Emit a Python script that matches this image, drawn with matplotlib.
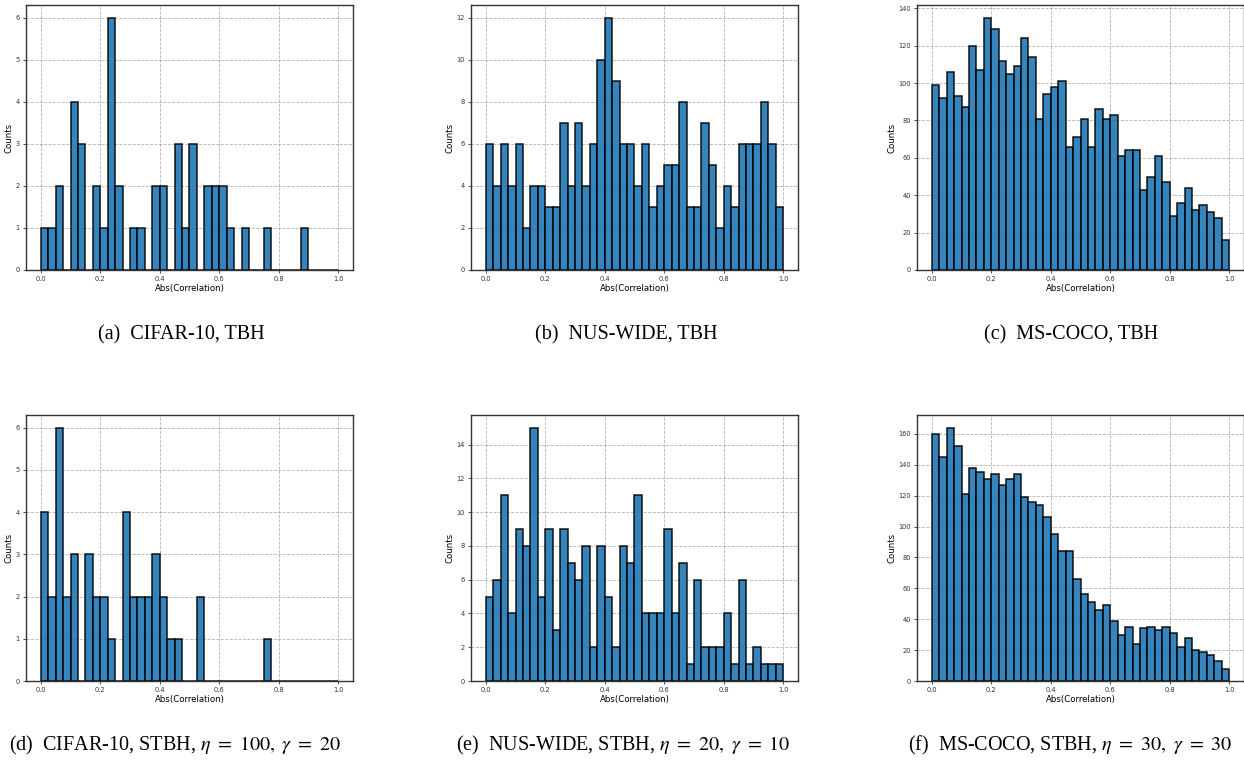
import numpy as np
import matplotlib
matplotlib.use("Agg")
import matplotlib.pyplot as plt

plt.rcParams['mathtext.fontset'] = 'stix'

bin_edges = np.linspace(0.0, 1.0, 41)

cifar_tbh = [1, 1, 2, 0, 4, 3, 0, 2, 1, 6,
             2, 0, 1, 1, 0, 2, 2, 0, 3, 1,
             3, 0, 2, 2, 2, 1, 0, 1, 0, 0,
             1, 0, 0, 0, 0, 1, 0, 0, 0, 0]
nus_tbh = [6, 4, 6, 4, 6, 2, 4, 4, 3, 3,
           7, 4, 7, 4, 6, 10, 12, 9, 6, 6,
           4, 6, 3, 4, 5, 5, 8, 3, 3, 7,
           5, 2, 4, 3, 6, 6, 6, 8, 6, 3]
coco_tbh = [99, 92, 106, 93, 87, 120, 107, 135, 129, 112,
            105, 109, 124, 114, 81, 94, 98, 101, 66, 71,
            81, 66, 86, 81, 83, 61, 64, 64, 43, 50,
            61, 47, 29, 36, 44, 32, 35, 31, 28, 16]
cifar_stbh = [4, 2, 6, 2, 3, 0, 3, 2, 2, 1,
              0, 4, 2, 2, 2, 3, 2, 1, 1, 0,
              0, 2, 0, 0, 0, 0, 0, 0, 0, 0,
              1, 0, 0, 0, 0, 0, 0, 0, 0, 0]
nus_stbh = [5, 6, 11, 4, 9, 8, 15, 5, 9, 3,
            9, 7, 6, 8, 2, 8, 5, 2, 8, 7,
            11, 4, 4, 4, 9, 4, 7, 1, 6, 2,
            2, 2, 4, 1, 6, 1, 2, 1, 1, 1]
coco_stbh = [160, 145, 164, 152, 121, 138, 135, 131, 134, 127,
             131, 134, 119, 116, 114, 106, 95, 84, 84, 66,
             56, 51, 46, 49, 39, 30, 35, 24, 34, 35,
             33, 35, 31, 22, 28, 20, 19, 17, 13, 8]

series = [cifar_tbh, nus_tbh, coco_tbh, cifar_stbh, nus_stbh, coco_stbh]
captions = ["(a)  CIFAR-10, TBH",
            "(b)  NUS-WIDE, TBH",
            "(c)  MS-COCO, TBH",
            r"(d)  CIFAR-10, STBH, $\eta\ =\ 100,\ \gamma\ =\ 20$",
            r"(e)  NUS-WIDE, STBH, $\eta\ =\ 20,\ \gamma\ =\ 10$",
            r"(f)  MS-COCO, STBH, $\eta\ =\ 30,\ \gamma\ =\ 30$"]

W, H = 1244, 761
fig = plt.figure(figsize=(W / 100, H / 100), dpi=100)

lefts = [26, 471, 917]
ax_w = 327
rows = [(5, 270), (415, 681)]
cap_x = [[181, 626, 1071], [175, 623, 1070]]
cap_y = [335, 745]

for i, counts in enumerate(series):
    r, c = divmod(i, 3)
    top, bot = rows[r]
    ax = fig.add_axes([lefts[c] / W, 1 - bot / H, ax_w / W, (bot - top) / H])
    ax.set_axisbelow(True)
    ax.hist(bin_edges[:-1], bins=bin_edges, weights=counts,
            color='#1f77b4', edgecolor='black', alpha=0.9, linewidth=1.1)
    ax.grid(True, linestyle='--', color='gray', alpha=0.6, linewidth=0.6)
    ax.tick_params(labelsize=4.8, length=2.5, width=0.6, pad=2, colors='#333333')
    ax.set_xticks([0.0, 0.2, 0.4, 0.6, 0.8, 1.0])
    ax.set_xlabel("Abs(Correlation)", fontsize=6.2, labelpad=1)
    ax.set_ylabel("Counts", fontsize=6.2, labelpad=1.5)
    for s in ax.spines.values():
        s.set_linewidth(1.0)
        s.set_color('#333333')
    fig.text(cap_x[r][c] / W, 1 - cap_y[r] / H, captions[i], ha='center', va='center',
             fontsize=14.5, family='Liberation Serif')

fig.savefig("out.png", dpi=100)
